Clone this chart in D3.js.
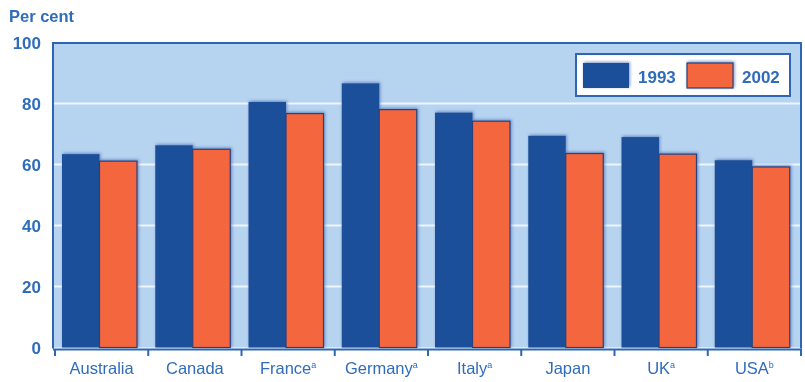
<!DOCTYPE html>
<html>
<head>
<meta charset="utf-8">
<script src="https://cdn.jsdelivr.net/npm/d3@7"></script>
<style>
  html, body { margin: 0; padding: 0; background: #ffffff; }
  svg { display: block; }
  text { font-family: "Liberation Sans", Arial, sans-serif; fill: #2f6cbc; }
</style>
</head>
<body>
<svg id="chart" width="805" height="382"></svg>
<script>
// ---- data ----
const categories = ["Australia", "Canada", "France", "Germany", "Italy", "Japan", "UK", "USA"];
const notes = ["", "", "a", "a", "a", "", "a", "b"];
const series = ["1993", "2002"];
const values1993 = [63.4, 66.3, 80.5, 86.6, 77.0, 69.4, 69.0, 61.4];
const values2002 = [61.1, 65.0, 76.7, 78.0, 74.2, 63.6, 63.4, 59.2];
const yTicks = [0, 20, 40, 60, 80, 100];
const yLabel = "Per cent";

const colors = { "1993": "#1f5099", "2002": "#f4663c" };

const svg = d3.select("#chart");
const plot = { left: 53, right: 801, top: 43, bottom: 348 };

const x0 = d3.scaleBand().domain(categories).range([55, 801]).padding(0);
const x1 = d3.scaleBand().domain(series).range([7, 82]).padding(0);
const y = d3.scaleLinear().domain([0, 100]).range([347.5, 42.5]);

// shadow filter
const defs = svg.append("defs");
const f = defs.append("filter").attr("id", "shadow").attr("x", "-20%").attr("y", "-20%").attr("width", "140%").attr("height", "140%");
f.append("feGaussianBlur").attr("in", "SourceAlpha").attr("stdDeviation", 1.8).attr("result", "blur");
f.append("feFlood").attr("flood-color", "#4d72b8").attr("flood-opacity", 0.75).attr("result", "col");
f.append("feComposite").attr("in", "col").attr("in2", "blur").attr("operator", "in").attr("result", "sh");
f.append("feOffset").attr("in", "sh").attr("dx", 1).attr("dy", -1).attr("result", "sho");
const fm = f.append("feMerge");
fm.append("feMergeNode").attr("in", "sho");
fm.append("feMergeNode").attr("in", "SourceGraphic");

// plot background
svg.append("rect")
  .attr("x", plot.left).attr("y", plot.top)
  .attr("width", plot.right - plot.left).attr("height", y(0) - plot.top)
  .attr("fill", "#b6d3f0");

// gridlines
svg.append("g").selectAll("line")
  .data(yTicks.filter(d => d > 0 && d < 100))
  .join("line")
  .attr("x1", plot.left).attr("x2", plot.right)
  .attr("y1", d => y(d)).attr("y2", d => y(d))
  .attr("stroke", "#eef6fd").attr("stroke-width", 2);

// bars
const rows = categories.map((c, i) => ({ cat: c, vals: [
  { s: "1993", v: values1993[i] }, { s: "2002", v: values2002[i] }] }));

const g = svg.append("g").attr("filter", "url(#shadow)");
const grp = g.selectAll("g").data(rows).join("g")
  .attr("transform", d => `translate(${x0(d.cat)},0)`);
grp.selectAll("rect").data(d => d.vals).join("rect")
  .attr("x", d => x1(d.s))
  .attr("y", d => y(d.v))
  .attr("width", x1.bandwidth())
  .attr("height", d => y(0) - y(d.v))
  .attr("fill", d => colors[d.s])
  .attr("stroke", d => d.s === "2002" ? "#2a3f7a" : "none")
  .attr("stroke-width", 1.2);

// frame (top, left, right)
svg.append("path")
  .attr("d", `M${plot.left},${y(0)+1} V${plot.top} H${plot.right} V${y(0)+1}`)
  .attr("fill", "none").attr("stroke", "#2c66b4").attr("stroke-width", 2);

// x axis
const xAxis = svg.append("g");
xAxis.append("line")
  .attr("x1", plot.left).attr("x2", plot.right + 1)
  .attr("y1", 349.5).attr("y2", 349.5)
  .attr("stroke", "#2c66b4").attr("stroke-width", 2);
const tickXs = categories.map(c => x0(c)).concat([x0.range()[1]]);
xAxis.selectAll("line.tick").data(tickXs).join("line").attr("class", "tick")
  .attr("x1", d => d).attr("x2", d => d)
  .attr("y1", 349).attr("y2", 356)
  .attr("stroke", "#2c66b4").attr("stroke-width", 2);

const labels = xAxis.selectAll("text.xl").data(categories).join("text").attr("class", "xl")
  .attr("x", d => x0(d) + x0.bandwidth() / 2)
  .attr("y", 374)
  .attr("text-anchor", "middle")
  .style("font-size", "16.5px");
labels.append("tspan").text(d => d);
labels.append("tspan")
  .attr("dy", -6)
  .style("font-size", "9px")
  .text((d, i) => notes[i]);

// y axis labels
svg.append("g").selectAll("text").data(yTicks).join("text")
  .attr("x", 41)
  .attr("y", d => y(d) + 6)
  .attr("text-anchor", "end")
  .style("font-size", "17px")
  .style("font-weight", "bold")
  .text(d => d);

// y title
svg.append("text").attr("x", 9).attr("y", 22)
  .style("font-size", "16.5px").style("font-weight", "bold").text(yLabel);

// legend
const lg = svg.append("g");
lg.append("rect").attr("x", 576).attr("y", 54).attr("width", 214).attr("height", 42)
  .attr("fill", "#ffffff").attr("stroke", "#2c66b4").attr("stroke-width", 2);
const legendX = [583, 687];
series.forEach((s, i) => {
  lg.append("rect").attr("x", legendX[i]).attr("y", 63).attr("width", 46).attr("height", 25)
    .attr("fill", colors[s])
    .attr("stroke", s === "2002" ? "#2a3f7a" : "none").attr("stroke-width", 1.2)
    .attr("filter", "url(#shadow)");
  lg.append("text").attr("x", legendX[i] + 55).attr("y", 83)
    .style("font-size", "17px").style("font-weight", "bold").text(s);
});
</script>
</body>
</html>
